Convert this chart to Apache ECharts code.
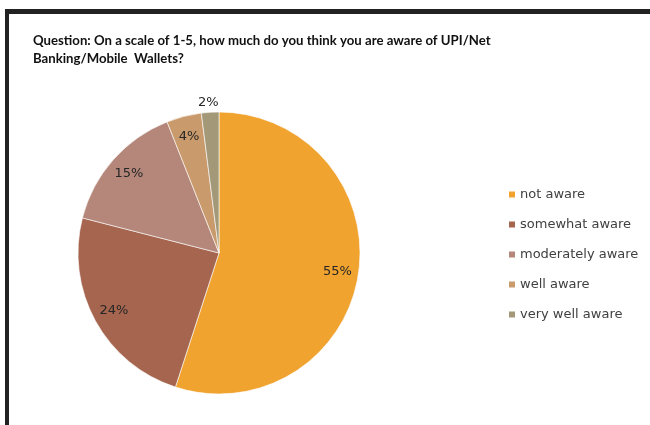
<!DOCTYPE html>
<html><head><meta charset="utf-8">
<script src="https://cdn.jsdelivr.net/npm/echarts@6/dist/echarts.min.js"></script>
<style>html,body{margin:0;padding:0;background:#fff}#c{width:650px;height:425px}</style>
</head><body><div id="c"></div>
<script>
var titleText = "Question: On a scale of 1-5, how much do you think you are aware of UPI/Net\nBanking/Mobile  Wallets?";
var categories = ["not aware", "somewhat aware", "moderately aware", "well aware", "very well aware"];
var values = [55, 24, 15, 4, 2];
var colors = ["#F0A32F", "#A5654F", "#B4877A", "#C99A6B", "#A39978"];

var chart = echarts.init(document.getElementById('c'), null, {renderer: 'canvas'});
var center = [219, 253];
var R = 141;
var pieData = categories.map(function (n, i) { return {name: n, value: values[i]}; });
var labelData = categories.map(function (n, i) {
  var d = {name: n, value: values[i]};
  if (i === categories.length - 1) {
    d.label = {position: 'outside', padding: [0, -14, 0, 0]};
    d.labelLine = {show: false, length: 11, length2: 0};
  }
  return d;
});
chart.setOption({
  animation: false,
  color: colors,
  title: {
    text: titleText, left: 28, top: 27,
    textStyle: {fontFamily: 'Lato', fontWeight: 'bold', fontSize: 13.2, color: '#111', lineHeight: 18}
  },
  legend: {
    orient: 'vertical', left: 502, top: 183,
    itemWidth: 8, itemHeight: 8, itemGap: 17, icon: 'rect',
    textStyle: {fontFamily: 'DejaVu Sans', fontSize: 13, color: '#404040', padding: [0, 0, 0, -1]},
    data: categories
  },
  graphic: [
    {type: 'rect', shape: {x: 5, y: 9, width: 645, height: 5}, style: {fill: '#222'}, z: 100},
    {type: 'rect', shape: {x: 5, y: 9, width: 4, height: 416}, style: {fill: '#222'}, z: 100}
  ],
  series: [
    {
      type: 'pie', center: center, radius: [0, R], startAngle: 90, clockwise: true,
      label: {show: false}, labelLine: {show: false},
      itemStyle: {borderColor: '#fff', borderWidth: 0.6},
      data: pieData
    },
    {
      type: 'pie', center: center, radius: [94, 140], startAngle: 90, clockwise: true,
      silent: true, legendHoverLink: false,
      itemStyle: {color: 'rgba(0,0,0,0)'},
      label: {show: true, position: 'inside', formatter: '{c}%', fontFamily: 'DejaVu Sans', fontSize: 13, color: '#262626'},
      labelLine: {show: false},
      data: labelData
    }
  ]
});
</script></body></html>
